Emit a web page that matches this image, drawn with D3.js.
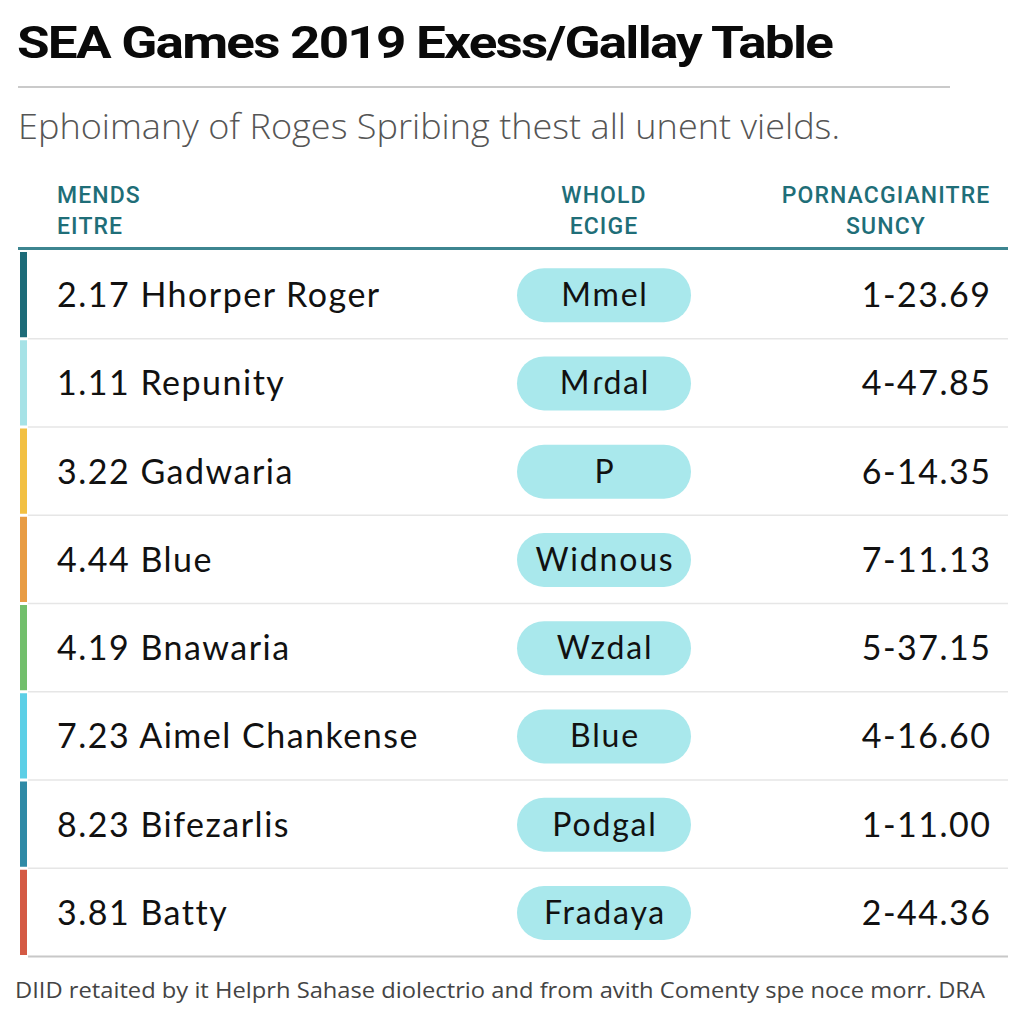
<!DOCTYPE html>
<html>
<head>
<meta charset="utf-8">
<script src="https://cdn.jsdelivr.net/npm/d3@7"></script>
<style>
  html, body { margin: 0; padding: 0; background: #ffffff; }
  svg { display: block; }
</style>
</head>
<body>
<svg id="chart" width="1024" height="1024"></svg>
<script>
const titleText = "SEA Games 2019 Exess/Gallay Table";
const subtitleText = "Ephoimany of Roges Spribing thest all unent vields.";
const footerText = "DIID retaited by it Helprh Sahase diolectrio and from avith Comenty spe noce morr. DRA";
const headerCol1 = ["MENDS", "EITRE"];
const headerCol2 = ["WHOLD", "ECIGE"];
const headerCol3 = ["PORNACGIANITRE", "SUNCY"];

const rowNames = ["2.17 Hhorper Roger", "1.11 Repunity", "3.22 Gadwaria", "4.44 Blue",
                  "4.19 Bnawaria", "7.23 Aimel Chankense", "8.23 Bifezarlis", "3.81 Batty"];
const pillLabels = ["Mmel", "Mɾdal", "P", "Widnous", "Wzdal", "Blue", "Podgal", "Fradaya"];
const resultValues = ["1-23.69", "4-47.85", "6-14.35", "7-11.13", "5-37.15", "4-16.60", "1-11.00", "2-44.36"];
const barColors = ["#1d6b78", "#a6e2e6", "#f2c043", "#e89c45", "#72bf6c", "#5ccfe6", "#2f8aa6", "#d45a44"];

const svg = d3.select("#chart");

// Title
svg.append("text").attr("x", 17).attr("y", 58)
  .attr("font-family", "Roboto, 'Liberation Sans', sans-serif")
  .attr("font-weight", 700).attr("font-size", 45)
  .attr("letter-spacing", -1.5)
  .attr("fill", "#0a0a0a")
  .attr("textLength", 815).attr("lengthAdjust", "spacingAndGlyphs")
  .text(titleText);

svg.append("line").attr("x1", 18).attr("x2", 950).attr("y1", 87).attr("y2", 87)
  .attr("stroke", "#b8b8b8").attr("stroke-width", 1.5);

// Subtitle
svg.append("text").attr("x", 18).attr("y", 139)
  .attr("font-family", "'Open Sans', sans-serif")
  .attr("font-weight", 300).attr("font-size", 34)
  .attr("fill", "#555")
  .attr("textLength", 822).attr("lengthAdjust", "spacingAndGlyphs")
  .text(subtitleText);

// Header
const headerColor = "#1f6e78";
function header(lines, x, anchor) {
  lines.forEach((t, i) => {
    svg.append("text").attr("x", x).attr("y", 203 + i * 31)
      .attr("text-anchor", anchor)
      .attr("font-family", "Roboto, sans-serif")
      .attr("font-weight", 500).attr("font-size", 23)
      .attr("letter-spacing", 1.1)
      .attr("fill", headerColor)
      .text(t);
  });
}
header(headerCol1, 57, "start");
header(headerCol2, 604, "middle");
header(headerCol3, 886, "middle");

svg.append("line").attr("x1", 18).attr("x2", 1008).attr("y1", 248.5).attr("y2", 248.5)
  .attr("stroke", "#3d8590").attr("stroke-width", 3);

// Rows
const y = d3.scaleBand().domain(d3.range(rowNames.length)).range([251, 957]).padding(0);
const rows = svg.append("g").selectAll("g").data(rowNames).join("g")
  .attr("transform", (d, i) => `translate(0,${y(i)})`);
const h = y.bandwidth();

rows.append("rect").attr("x", 20).attr("y", 1).attr("width", 7).attr("height", h - 3)
  .attr("fill", (d, i) => barColors[i]);

rows.append("line").attr("x1", 28).attr("x2", 1008).attr("y1", h - 0.5).attr("y2", h - 0.5)
  .attr("stroke", (d, i) => i === rowNames.length - 1 ? "#c8c8c8" : "#e6e6e6")
  .attr("stroke-width", (d, i) => i === rowNames.length - 1 ? 2 : 1.5);

rows.append("text").attr("x", 57).attr("y", h / 2 + 12)
  .attr("font-family", "Lato, sans-serif").attr("font-size", 34)
  .attr("letter-spacing", 1.5)
  .attr("fill", "#111").text(d => d);

rows.append("rect").attr("x", 517).attr("y", h / 2 - 27).attr("width", 174).attr("height", 54)
  .attr("rx", 27).attr("fill", "#a9e8ec");

rows.append("text").attr("x", 605).attr("y", h / 2 + 11).attr("text-anchor", "middle")
  .attr("font-family", "Lato, sans-serif").attr("font-size", 32)
  .attr("letter-spacing", 1.8)
  .attr("fill", "#111").text((d, i) => pillLabels[i]);

rows.append("text").attr("x", 991.5).attr("y", h / 2 + 12).attr("text-anchor", "end")
  .attr("font-family", "Lato, sans-serif").attr("font-size", 34)
  .attr("letter-spacing", 1.5)
  .attr("fill", "#111").text((d, i) => resultValues[i]);

// Footer
svg.append("text").attr("x", 15).attr("y", 998)
  .attr("font-family", "'Open Sans', sans-serif")
  .attr("font-weight", 400).attr("font-size", 22)
  .attr("fill", "#444")
  .attr("textLength", 970).attr("lengthAdjust", "spacingAndGlyphs")
  .text(footerText);
</script>
</body>
</html>
